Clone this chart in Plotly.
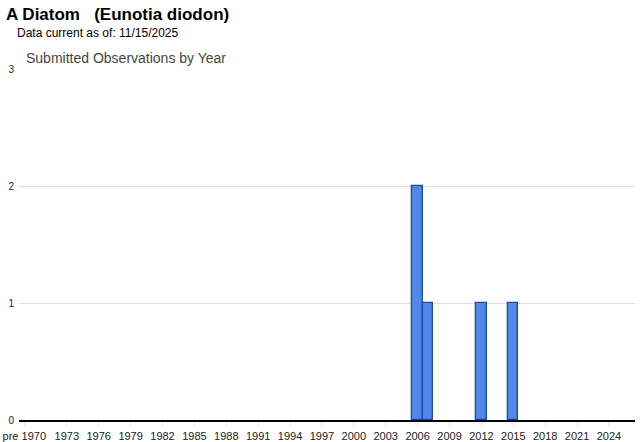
import plotly.graph_objects as go

# observation counts per year
years = [2006, 2007, 2012, 2015]
counts = [2, 1, 1, 1]

# x tick labels ("pre 1970" sits on the 1969 slot)
tick_years = [1969] + list(range(1973, 2025, 3))
tick_labels = ['pre 1970'] + [str(y) for y in range(1973, 2025, 3)]
y_ticks = [0, 1, 2, 3]

fig = go.Figure()
fig.add_trace(go.Bar(
    x=years, y=counts, width=0.97,
    marker=dict(color='#5187e6', line=dict(color='#1d49a6', width=1.3)),
))

fig.update_layout(
    width=640, height=442,
    margin=dict(l=19, r=5, t=69, b=22),
    paper_bgcolor='white', plot_bgcolor='white',
    font=dict(family='Arial, Liberation Sans, sans-serif', color='#222', size=11),
    showlegend=False,
    bargap=0,
)
fig.update_xaxes(
    range=[1968.5, 2026.45], tickvals=tick_years, ticktext=tick_labels,
    showgrid=False, showline=True, linecolor='#000', linewidth=1.5,
    ticks='outside', ticklen=4, tickcolor='#e6e6e6', tickfont=dict(size=11),
    ticklabelstandoff=1, zeroline=False, automargin=False,
)
fig.update_yaxes(
    range=[0, 3], tickvals=y_ticks, showgrid=True, gridcolor='#dedede', gridwidth=1,
    tickfont=dict(size=10), zeroline=False, ticklabelstandoff=4, automargin=False,
)

fig.add_annotation(text='<b>A Diatom   (Eunotia diodon)</b>', xref='paper', yref='paper',
                   x=(4 - 19) / 616, y=1 + (69 - 14) / 351, xanchor='left', yanchor='middle',
                   showarrow=False, font=dict(size=17, color='#000'))
fig.add_annotation(text='Data current as of: 11/15/2025', xref='paper', yref='paper',
                   x=(15 - 19) / 616, y=1 + (69 - 33) / 351, xanchor='left', yanchor='middle',
                   showarrow=False, font=dict(size=12, color='#000'))
fig.add_annotation(text='Submitted Observations by Year', xref='paper', yref='paper',
                   x=(24 - 19) / 616, y=1 + (69 - 58) / 351, xanchor='left', yanchor='middle',
                   showarrow=False, font=dict(size=14, color='#444'))

fig.write_html('out.html', config={'displayModeBar': False},
               post_script="document.body.style.margin='0';")
